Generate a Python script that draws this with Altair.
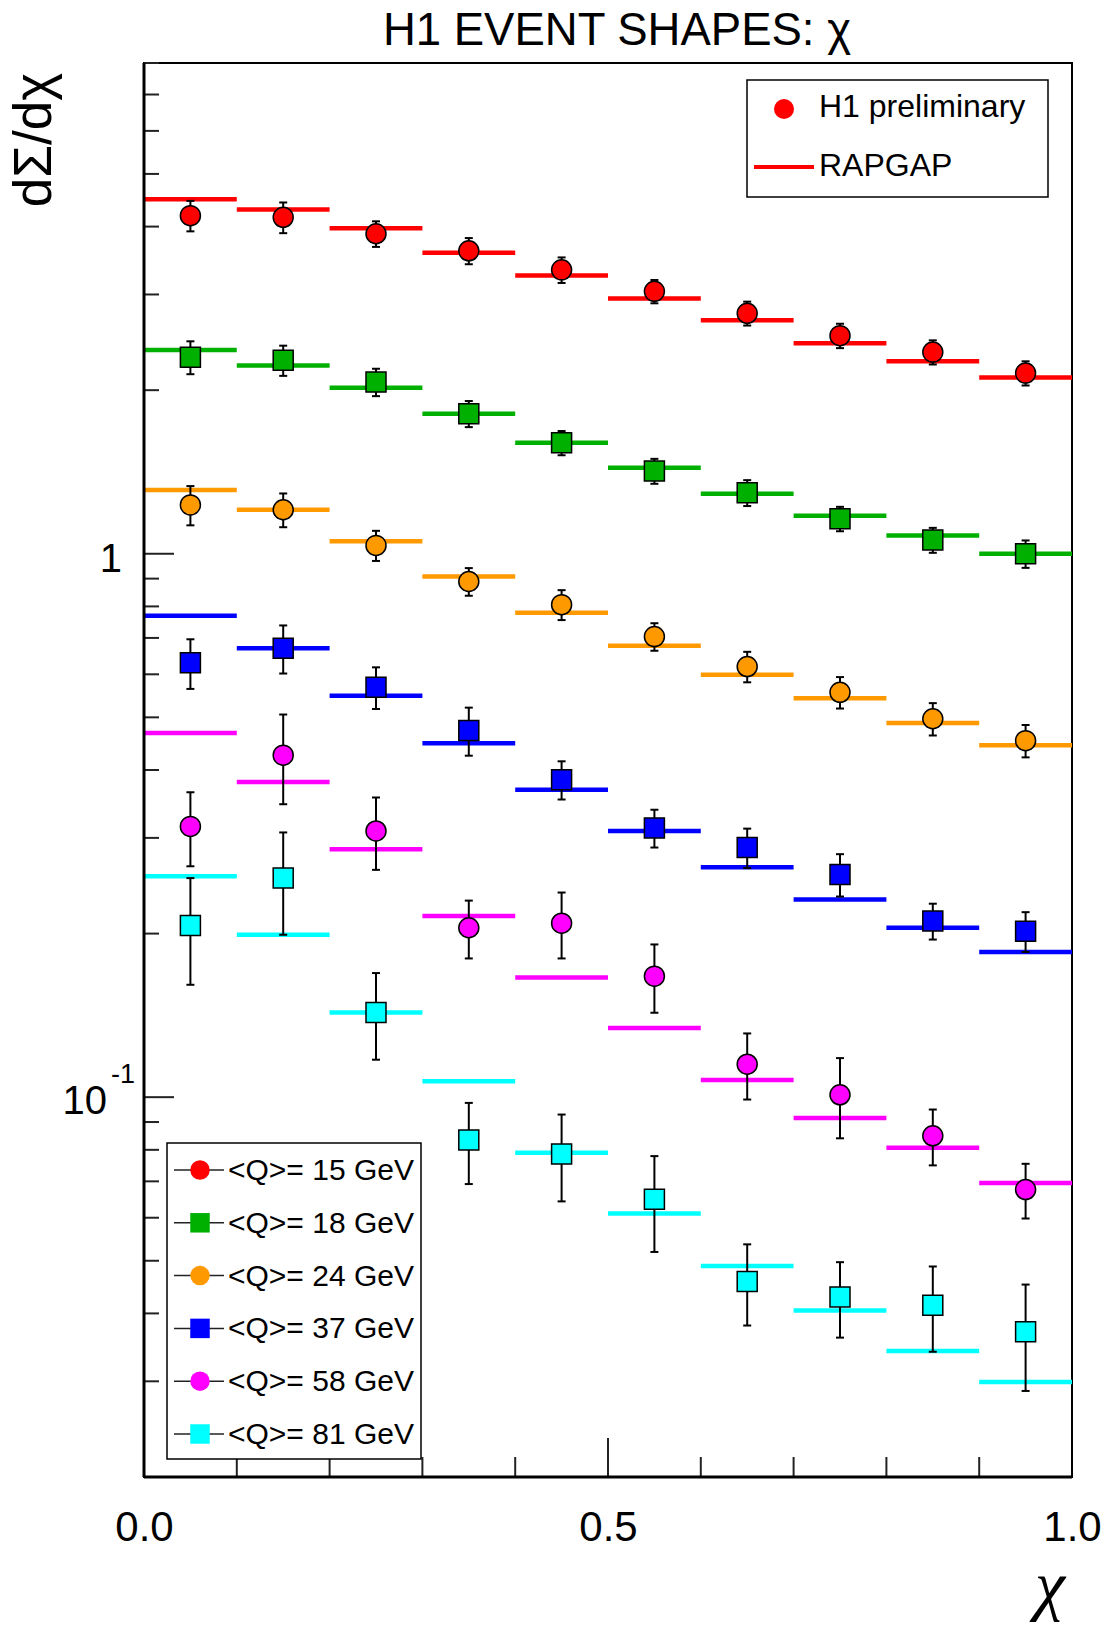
import altair as alt
import pandas as pd

# ---------------- data ----------------
chi_lo = [0.0, 0.1, 0.2, 0.3, 0.4, 0.5, 0.6, 0.7, 0.8, 0.9]
chi_hi = [0.1, 0.2, 0.3, 0.4, 0.5, 0.6, 0.7, 0.8, 0.9, 1.0]
chi_mid = [0.05, 0.15, 0.25, 0.35, 0.45, 0.55, 0.65, 0.75, 0.85, 0.95]

series = ["<Q>= 15 GeV", "<Q>= 18 GeV", "<Q>= 24 GeV",
          "<Q>= 37 GeV", "<Q>= 58 GeV", "<Q>= 81 GeV"]
colors = ["#ff0000", "#00b000", "#ff9900", "#0000ff", "#ff00ff", "#00ffff"]
shapes = ["circle", "square", "circle", "square", "circle", "square"]

h1_15 = [4.19, 4.16, 3.88, 3.61, 3.33, 3.04, 2.77, 2.52, 2.35, 2.15]
err_15 = [0.27, 0.27, 0.21, 0.20, 0.18, 0.15, 0.14, 0.13, 0.12, 0.11]
rap_15 = [4.49, 4.30, 3.97, 3.58, 3.25, 2.95, 2.69, 2.44, 2.26, 2.11]

h1_18 = [2.30, 2.27, 2.07, 1.81, 1.60, 1.42, 1.295, 1.16, 1.06, 1.00]
err_18 = [0.16, 0.145, 0.12, 0.10, 0.082, 0.075, 0.071, 0.060, 0.056, 0.058]
rap_18 = [2.37, 2.22, 2.02, 1.81, 1.60, 1.44, 1.29, 1.175, 1.08, 1.00]

h1_24 = [1.23, 1.205, 1.036, 0.889, 0.806, 0.704, 0.620, 0.556, 0.497, 0.453]
err_24 = [0.102, 0.086, 0.066, 0.052, 0.051, 0.041, 0.040, 0.037, 0.034, 0.031]
rap_24 = [1.31, 1.205, 1.054, 0.908, 0.779, 0.677, 0.599, 0.542, 0.488, 0.444]

h1_37 = [0.630, 0.670, 0.568, 0.473, 0.384, 0.313, 0.288, 0.257, 0.211, 0.202]
err_37 = [0.066, 0.068, 0.050, 0.048, 0.031, 0.025, 0.024, 0.023, 0.016, 0.017]
rap_37 = [0.769, 0.670, 0.548, 0.448, 0.368, 0.309, 0.265, 0.231, 0.205, 0.185]

h1_58 = [0.315, 0.426, 0.309, 0.205, 0.209, 0.167, 0.115, 0.101, 0.0849, 0.0676]
err_58 = [0.049, 0.080, 0.047, 0.025, 0.029, 0.024, 0.016, 0.017, 0.010, 0.0078]
rap_58 = [0.468, 0.380, 0.286, 0.2155, 0.166, 0.134, 0.1076, 0.0916, 0.0807, 0.0695]

h1_81 = [0.207, 0.253, 0.1432, 0.0834, 0.0786, 0.0649, 0.0458, 0.0429, 0.0414, 0.0370]
err_81 = [0.046, 0.054, 0.026, 0.0142, 0.0143, 0.013, 0.0078, 0.0068, 0.0074, 0.0082]
rap_81 = [0.255, 0.199, 0.1432, 0.107, 0.079, 0.0611, 0.0489, 0.0405, 0.0341, 0.0299]

h1_all = [h1_15, h1_18, h1_24, h1_37, h1_58, h1_81]
err_all = [err_15, err_18, err_24, err_37, err_58, err_81]
rap_all = [rap_15, rap_18, rap_24, rap_37, rap_58, rap_81]

x_tick_minor = [0.1, 0.2, 0.3, 0.4, 0.6, 0.7, 0.8, 0.9]
x_tick_major = [0.5]
x_label_vals = [0.0, 0.5, 1.0]
y_tick_major = [0.1, 1.0]
y_tick_minor = [0.02, 0.03, 0.04, 0.05, 0.06, 0.07, 0.08, 0.09,
                0.2, 0.3, 0.4, 0.5, 0.6, 0.7, 0.8, 0.9,
                2, 3, 4, 5, 6, 7, 8]

title_text = "H1 EVENT SHAPES: \u03c7"
y_title_text = "d\u03a3/d\u03c7"
x_title_text = "\u03c7"
legend1_labels = ["H1 preliminary", "RAPGAP"]

rows = []
for s, h1, er, rp in zip(series, h1_all, err_all, rap_all):
    for i in range(len(chi_mid)):
        rows.append({"series": s, "lo": chi_lo[i], "hi": chi_hi[i], "chi": chi_mid[i],
                     "value": h1[i], "err": er[i], "model": rp[i]})
df = pd.DataFrame(rows)

# ---------------- layout ----------------
W, H = 928, 1414
FONT = "Liberation Sans"

xscale = alt.Scale(domain=[0, 1], nice=False, zero=False)
yscale = alt.Scale(type="log", domain=[0.02, 8], nice=False)
cscale = alt.Scale(domain=series, range=colors)
sscale = alt.Scale(domain=series, range=shapes)

XAX = alt.Axis(values=x_label_vals, format=".1f", tickSize=0, domain=False, grid=False,
               labelPadding=30, labelFontSize=42, labelFont=FONT, labelColor="black",
               labelFlush=False, title=None)


def X(field):
    return alt.X(field, type="quantitative", scale=xscale, axis=XAX)


def Y(field):
    return alt.Y(field, type="quantitative", scale=yscale, axis=None)


base = alt.Chart(df)

model_lines = base.mark_rule(strokeWidth=4.5).encode(
    x=X("lo"), x2="hi", y=Y("model"),
    color=alt.Color("series:N", scale=cscale, legend=None))

err_df = base.transform_calculate(ylo="datum.value - datum.err", yhi="datum.value + datum.err")
err_bars = err_df.mark_rule(color="black", strokeWidth=2).encode(
    x=X("chi"), y=Y("ylo"), y2="yhi")
cap_hi = err_df.mark_rule(color="black", strokeWidth=2, xOffset=-4, x2Offset=4).encode(
    x=X("chi"), x2="chi", y=Y("yhi"))
cap_lo = err_df.mark_rule(color="black", strokeWidth=2, xOffset=-4, x2Offset=4).encode(
    x=X("chi"), x2="chi", y=Y("ylo"))

markers = base.mark_point(filled=True, size=400, stroke="black", strokeWidth=1.5, opacity=1).encode(
    x=X("chi"), y=Y("value"),
    fill=alt.Fill("series:N", scale=cscale, legend=None),
    shape=alt.Shape("series:N", scale=sscale, legend=None))

# ticks (drawn inside the frame, ROOT style)
TICK = "#222222"
xt_minor = alt.Chart(pd.DataFrame({"t": x_tick_minor})).mark_rule(color=TICK, strokeWidth=2).encode(
    x=X("t"), y=alt.value(H), y2=alt.value(H - 20))
xt_major = alt.Chart(pd.DataFrame({"t": x_tick_major})).mark_rule(color=TICK, strokeWidth=2).encode(
    x=X("t"), y=alt.value(H), y2=alt.value(H - 39))
yt_minor = alt.Chart(pd.DataFrame({"t": y_tick_minor})).mark_rule(color=TICK, strokeWidth=2).encode(
    y=Y("t"), x=alt.value(0), x2=alt.value(15))
yt_major = alt.Chart(pd.DataFrame({"t": y_tick_major})).mark_rule(color=TICK, strokeWidth=2).encode(
    y=Y("t"), x=alt.value(0), x2=alt.value(30))

left_line = alt.Chart(pd.DataFrame({"a": [0]})).mark_rule(color="black", strokeWidth=3).encode(
    x=alt.value(0), y=alt.value(0), y2=alt.value(H))
bottom_line = alt.Chart(pd.DataFrame({"a": [0]})).mark_rule(color="black", strokeWidth=3).encode(
    x=alt.value(0), x2=alt.value(W), y=alt.value(H))

# y labels: "1" and "10^-1"
ylab1 = alt.Chart(pd.DataFrame({"v": [1.0], "t": ["1"]})).mark_text(
    font=FONT, fontSize=40, align="right", baseline="alphabetic", dy=18, color="black").encode(
    y=Y("v"), x=alt.value(-22), text="t:N")
ylab10 = alt.Chart(pd.DataFrame({"v": [0.1], "t": ["10"]})).mark_text(
    font=FONT, fontSize=40, align="right", baseline="alphabetic", dy=17, color="black").encode(
    y=Y("v"), x=alt.value(-37), text="t:N")
ylabexp = alt.Chart(pd.DataFrame({"v": [0.1], "t": ["-1"]})).mark_text(
    font=FONT, fontSize=27, align="left", baseline="alphabetic", dy=-14, color="black").encode(
    y=Y("v"), x=alt.value(-33), text="t:N")

one = pd.DataFrame({"a": [0]})

title = alt.Chart(pd.DataFrame({"t": [title_text]})).mark_text(
    font=FONT, fontSize=45.5, align="center", baseline="alphabetic", color="black").encode(
    x=alt.value(473), y=alt.value(-18), text="t:N")
ytitle = alt.Chart(pd.DataFrame({"t": [y_title_text]})).mark_text(
    font=FONT, fontSize=53, align="center", baseline="alphabetic", angle=270, color="black").encode(
    x=alt.value(-93), y=alt.value(77), text="t:N")
xtitle = alt.Chart(pd.DataFrame({"t": [x_title_text]})).mark_text(
    font="Liberation Serif", fontStyle="italic", fontSize=68, align="center",
    baseline="alphabetic", color="black").encode(
    x=alt.value(906), y=alt.value(1545), text="t:N")

# legend 1 (top right)
leg1_box = alt.Chart(one).mark_rect(fill="white", stroke="black", strokeWidth=1.5).encode(
    x=alt.value(603), x2=alt.value(904), y=alt.value(17), y2=alt.value(134))
leg1_pt = alt.Chart(one).mark_point(filled=True, size=400, color=colors[0], opacity=1).encode(
    x=alt.value(640), y=alt.value(46))
leg1_line = alt.Chart(one).mark_rule(color=colors[0], strokeWidth=4).encode(
    x=alt.value(610), x2=alt.value(670), y=alt.value(104))
leg1_t1 = alt.Chart(pd.DataFrame({"t": [legend1_labels[0]]})).mark_text(
    font=FONT, fontSize=32, align="left", baseline="alphabetic", color="black").encode(
    x=alt.value(675), y=alt.value(54), text="t:N")
leg1_t2 = alt.Chart(pd.DataFrame({"t": [legend1_labels[1]]})).mark_text(
    font=FONT, fontSize=32, align="left", baseline="alphabetic", color="black").encode(
    x=alt.value(675), y=alt.value(113), text="t:N")

# legend 2 (bottom left)
leg2 = [alt.Chart(one).mark_rect(fill="white", stroke="black", strokeWidth=1.5).encode(
    x=alt.value(23), x2=alt.value(277), y=alt.value(1080), y2=alt.value(1396))]
for i, (s, c, sh) in enumerate(zip(series, colors, shapes)):
    ry = 1107 + i * 52.8
    leg2.append(alt.Chart(one).mark_rule(color="#222222", strokeWidth=1.5).encode(
        x=alt.value(30), x2=alt.value(80), y=alt.value(ry)))
    leg2.append(alt.Chart(one).mark_point(filled=True, size=380, color=c, shape=sh, opacity=1).encode(
        x=alt.value(56), y=alt.value(ry)))
    leg2.append(alt.Chart(pd.DataFrame({"t": [s]})).mark_text(
        font=FONT, fontSize=30, align="left", baseline="alphabetic", color="black").encode(
        x=alt.value(84), y=alt.value(ry + 10), text="t:N"))

chart = alt.layer(
    model_lines, err_bars, cap_hi, cap_lo, markers,
    xt_minor, xt_major, yt_minor, yt_major, left_line, bottom_line,
    ylab1, ylab10, ylabexp, title, ytitle, xtitle,
    leg1_box, leg1_pt, leg1_line, leg1_t1, leg1_t2,
    *leg2,
).properties(
    width=W, height=H,
    autosize=alt.AutoSizeParams(type="none"),
    padding={"left": 144, "top": 63, "right": 36, "bottom": 152},
    background="white",
).configure_view(stroke="black", strokeWidth=2)

chart.save("out.html", embed_options={"renderer": "svg", "actions": False})
